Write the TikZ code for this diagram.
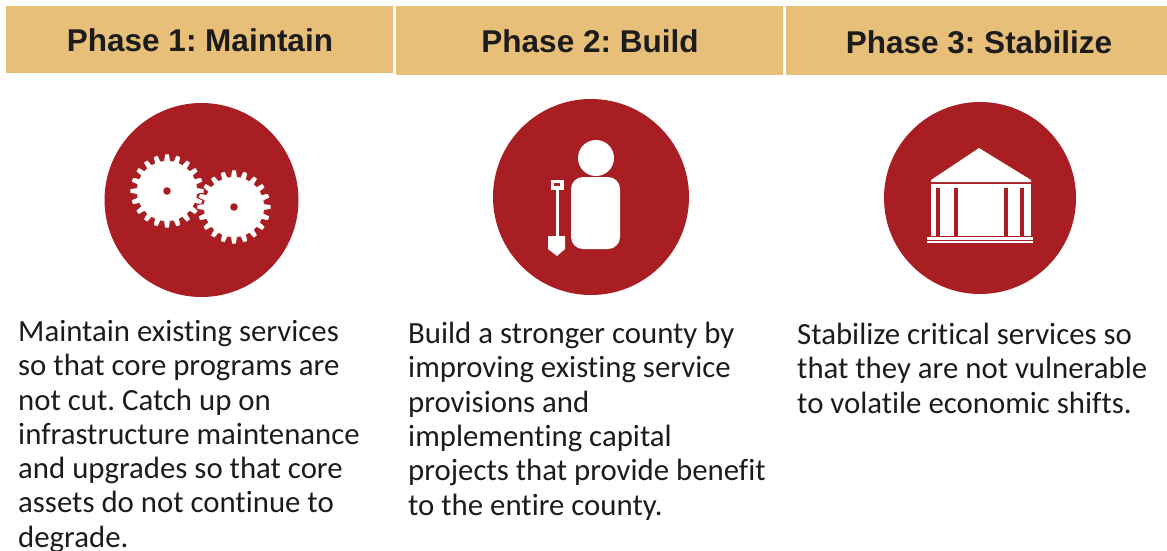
\documentclass[tikz,border=0pt]{standalone}
\usepackage{fontspec}
\setmainfont[Ligatures=NoCommon]{Carlito}
\newfontfamily\headfont{Liberation Sans}
\definecolor{bandcol}{HTML}{E8BF78}
\definecolor{discred}{HTML}{A81E22}
\definecolor{inkcol}{HTML}{1C1C1C}
\newcommand{\gearshape}[2]{%
  \begin{scope}[shift={(#1,#2)}]
  \path[fill=white, draw=discred, line width=0.8pt, line join=round] (-9:30.5)
    \foreach \a in {0,18,...,342}{
      -- (\a-6:30.5) -- (\a-3.8:37) -- (\a+3.8:37) -- (\a+6:30.5) -- (\a+9:30.5)
    } -- cycle;
  \fill[discred] (0,0) circle (3.8);
  \end{scope}
}
\tikzset{
  band/.style={fill=bandcol, draw=none},
  headtext/.style={font=\headfont\bfseries\frenchspacing\fontsize{31.5}{36}\selectfont, text=inkcol, anchor=center, inner sep=0pt},
  bodytext/.style={font=\frenchspacing\fontsize{30.8}{34.3}\selectfont, text=inkcol, anchor=north west, align=left, inner sep=0pt},
  disc/.style={fill=discred, draw=none, circle, inner sep=0pt},
}
\begin{document}
\begin{tikzpicture}[x=1pt,y=-1pt]
\useasboundingbox (0,0) rectangle (1167,550);
\fill[band] (6,6) rectangle (393,73);
\fill[band] (396,6) rectangle (783,75);
\fill[band] (786,6) rectangle (1167,75);
\node[headtext] (h1) at (200,40) {Phase 1: Maintain};
\node[headtext] (h2) at (590,41) {Phase 2: Build};
\node[headtext] (h3) at (979,42) {Phase 3: Stabilize};
\node[disc, minimum size=194pt] (c1) at (201.5,200) {};
\node[disc, minimum size=196pt] (c2) at (591,197) {};
\node[disc, minimum size=192pt] (c3) at (980,198) {};
% gears
\gearshape{167}{191}
\gearshape{234}{207}
% person with shovel
\fill[white] (596,158) circle (18);
\fill[white, rounded corners=12pt] (571,177) rectangle (620,249);
\fill[white] (550.5,180) rectangle (563.5,189.5);
\fill[discred] (554,183) rectangle (560,186);
\fill[white] (555.5,189) rectangle (558.5,238);
\fill[white] (548,236) -- (565,236) -- (565,249) -- (557,256) -- (548,249) -- cycle;
% temple
\fill[white] (979,148) -- (1031,180) -- (1031,182) -- (931,182) -- (931,180) -- cycle;
\fill[white] (931,184) rectangle (1031,236);
\foreach \cx in {938,956,1006,1022}{
  \fill[discred] (\cx-1.8,188) rectangle (\cx+1.8,236);
}
\fill[white] (927,237) rectangle (1033,239.5);
\fill[white] (927,241) rectangle (1033,243);
% text
\node[bodytext] (t1) at (18,320) {Maintain existing services\\so that core programs are\\not cut. Catch up on\\infrastructure maintenance\\and upgrades so that core\\assets do not continue to\\degrade.};
\node[bodytext] (t2) at (408,322) {Build a stronger county by\\improving existing service\\provisions and\\implementing capital\\projects that provide benefit\\to the entire county.};
\node[bodytext] (t3) at (797,323) {Stabilize critical services so\\that they are not vulnerable\\to volatile economic shifts.};
\end{tikzpicture}
\end{document}
